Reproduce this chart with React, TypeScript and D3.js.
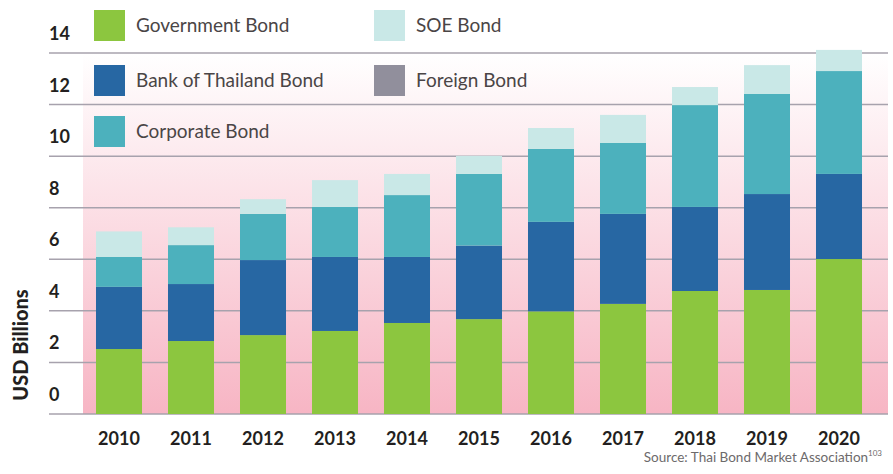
import React, { useRef, useEffect } from "react";
import * as d3 from "d3";

// values, USD billions
const years = ["2010", "2011", "2012", "2013", "2014", "2015", "2016", "2017", "2018", "2019", "2020"];
const governmentBond = [2.52, 2.83, 3.06, 3.22, 3.53, 3.68, 3.98, 4.27, 4.77, 4.81, 6.01];
const botBond = [2.41, 2.21, 2.91, 2.87, 2.56, 2.85, 3.47, 3.49, 3.26, 3.72, 3.30];
const corporateBond = [1.16, 1.51, 1.79, 1.94, 2.40, 2.78, 2.83, 2.75, 3.95, 3.88, 3.99];
const soeBond = [0.99, 0.69, 0.57, 1.04, 0.82, 0.70, 0.81, 1.09, 0.70, 1.12, 0.82];
const foreignBond = [0, 0, 0, 0, 0, 0, 0, 0, 0, 0, 0];
const yTicks = [0, 2, 4, 6, 8, 10, 12, 14];

const seriesKeys = ["gov", "bot", "corp", "soe", "foreign"];
const seriesNames = ["Government Bond", "Bank of Thailand Bond", "Corporate Bond", "SOE Bond", "Foreign Bond"];
const colors = ["#8cc63f", "#2767a3", "#4cb1bd", "#c9e8e7", "#918f9c"];

const W = 893;
const H = 474;

const App = () => {
  const svgRef = useRef<SVGSVGElement>(null);

  useEffect(() => {
    const svg = d3.select(svgRef.current);
    svg.selectAll("*").remove();

    const rows = years.map((y, i) => ({
      year: y,
      gov: governmentBond[i],
      bot: botBond[i],
      corp: corporateBond[i],
      soe: soeBond[i],
      foreign: foreignBond[i]
    }));

    const x = d3.scaleBand().domain(years).range([83, 875]).paddingInner(0.361).paddingOuter(0.1805);
    const y = d3.scaleLinear().domain([0, 14]).range([414, 53]);

    // pink gradient background
    const grad = svg.append("defs").append("linearGradient")
      .attr("id", "bg").attr("x1", 0).attr("y1", 0).attr("x2", 0).attr("y2", 1);
    grad.append("stop").attr("offset", "0%").attr("stop-color", "#ffffff");
    grad.append("stop").attr("offset", "100%").attr("stop-color", "#f7b5c4");

    svg.append("rect")
      .attr("x", 83).attr("y", y(14))
      .attr("width", 888 - 83).attr("height", y(0) - y(14))
      .attr("fill", "url(#bg)");

    // gridlines + tick labels
    const grid = svg.append("g");
    grid.selectAll("line").data(yTicks).join("line")
      .attr("x1", 49).attr("x2", 888)
      .attr("y1", d => y(d)).attr("y2", d => y(d))
      .attr("stroke", "#a7a2ad").attr("stroke-width", 1.5);
    grid.selectAll("text").data(yTicks).join("text")
      .attr("x", 49).attr("y", d => y(d) - 13)
      .attr("font-family", "Lato, sans-serif").attr("font-weight", "bold")
      .attr("font-size", 18).attr("fill", "#231f20")
      .text(d => d);

    // stacked bars
    const stacked = d3.stack<any>().keys(seriesKeys)(rows);
    svg.append("g").selectAll("g").data(stacked).join("g")
      .attr("fill", (d, i) => colors[i])
      .selectAll("rect").data(d => d).join("rect")
      .attr("x", d => x(d.data.year)!)
      .attr("width", x.bandwidth())
      .attr("y", d => y(d[1]))
      .attr("height", d => y(d[0]) - y(d[1]));

    // x labels
    svg.append("g").selectAll("text").data(years).join("text")
      .attr("x", d => x(d)! + x.bandwidth() / 2).attr("y", 445)
      .attr("text-anchor", "middle")
      .attr("font-family", "Lato, sans-serif").attr("font-weight", "bold")
      .attr("font-size", 18).attr("fill", "#231f20")
      .text(d => d);

    // y title
    svg.append("text")
      .attr("transform", "translate(28,345) rotate(-90)")
      .attr("text-anchor", "middle")
      .attr("font-family", "Lato, sans-serif").attr("font-weight", "900")
      .attr("font-size", 20).attr("fill", "#231f20")
      .text("USD Billions");

    // legend: two columns
    const legendPos = [
      [94, 10], [94, 65], [94, 116], [374, 10], [374, 65]
    ];
    const legend = svg.append("g").selectAll("g").data(seriesNames).join("g")
      .attr("transform", (d, i) => `translate(${legendPos[i][0]},${legendPos[i][1]})`);
    legend.append("rect").attr("width", 31).attr("height", 31).attr("fill", (d, i) => colors[i]);
    legend.append("text")
      .attr("x", 42).attr("y", 22)
      .attr("font-family", "Lato, sans-serif").attr("font-size", 19)
      .attr("fill", "#4a4546")
      .text(d => d);

    // source
    const src = svg.append("text")
      .attr("x", 882).attr("y", 462).attr("text-anchor", "end")
      .attr("font-family", "Lato, sans-serif").attr("font-size", 13.5)
      .attr("fill", "#6d6a6b");
    src.append("tspan").text("Source: Thai Bond Market Association");
    src.append("tspan").attr("font-size", 8).attr("dy", -6).text("103");
  }, []);

  return (
    <div>
      <style>{`body { margin: 0; }`}</style>
      <svg ref={svgRef} width={W} height={H} style={{ display: "block", background: "#fff" }} />
    </div>
  );
};

export default App;
